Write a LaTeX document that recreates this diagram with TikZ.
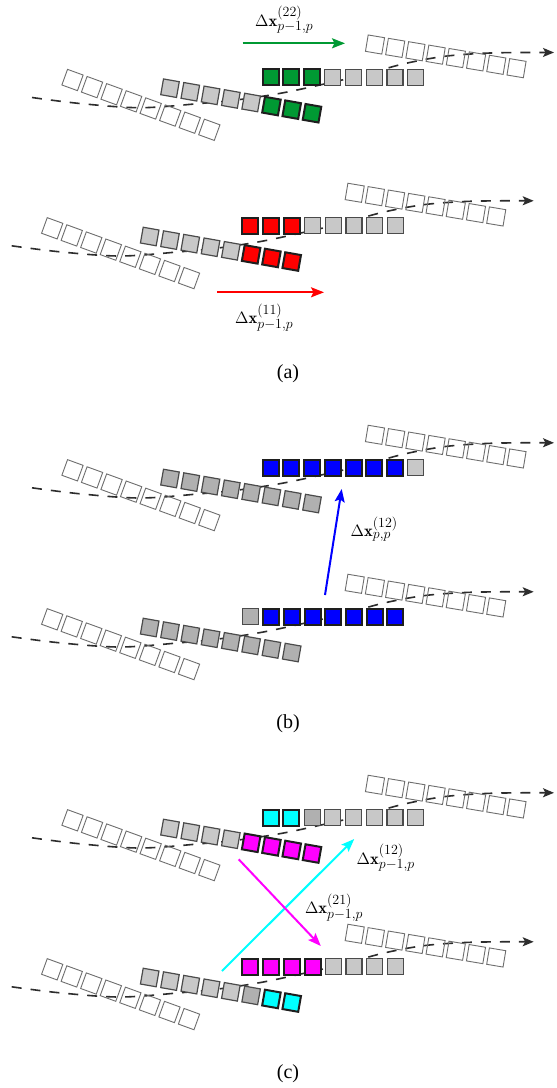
\RequirePackage{fix-cm}
\documentclass[tikz,border=0pt]{standalone}
\usepackage{fontspec}
\newfontfamily\capfont{Liberation Serif}
\DeclareMathSizes{16.5}{16.5}{14}{11}
\usetikzlibrary{arrows.meta}
\definecolor{cG}{RGB}{0,153,51}
\definecolor{cR}{RGB}{255,0,0}
\definecolor{cB}{RGB}{0,0,255}
\definecolor{cC}{RGB}{0,255,255}
\definecolor{cM}{RGB}{255,0,255}
\definecolor{cL}{RGB}{200,200,200}
\definecolor{cD}{RGB}{176,176,176}
\definecolor{cEdge}{RGB}{75,75,75}
\definecolor{cHol}{RGB}{110,110,110}
\definecolor{cDash}{RGB}{45,45,45}
\definecolor{cBord}{RGB}{30,30,30}
\tikzset{
  hol/.style={draw=cHol, line width=0.9pt},
  sqL/.style={fill=cL, draw=cEdge, line width=1.2pt},
  sqD/.style={fill=cD, draw=cEdge, line width=1.2pt},
  sqG/.style={fill=cG, draw=cBord, line width=2pt},
  sqR/.style={fill=cR, draw=cBord, line width=2pt},
  sqB/.style={fill=cB, draw=cBord, line width=2pt},
  sqC/.style={fill=cC, draw=cBord, line width=2pt},
  sqM/.style={fill=cM, draw=cBord, line width=2pt},
  dcurve/.style={draw=cDash, line width=1.6pt, dash pattern=on 10pt off 9pt,
    -{Stealth[length=11pt,width=9pt,inset=2.5pt]}},
  varrow/.style={line width=2pt, -{Stealth[length=13pt,width=10pt,inset=2.5pt]}},
  lab/.style={inner sep=0pt, anchor=base west, font=\fontsize{16.5}{20}\selectfont},
  captxt/.style={inner sep=0pt, anchor=base, font=\capfont\fontsize{20}{24}\selectfont}
}
\newcommand\chainunit[3]{%
\begin{scope}[shift={#1}]
  \draw[dcurve] plot[smooth,tension=0.55] coordinates {(32,97.5) (80,103.5) (140,107.7) (200,103.5) (240,99.5) (282,93) (322,84.5) (363,75) (403,64) (443,56.5) (483,53.3) (520,52.5) (554,52.5)};
  \begin{scope}[shift={(72.5,80)},rotate=-20]
    \foreach \i in {0,...,7} \draw[hol] ({\i*20.8-8.3},-8.3) rectangle ++(16.6,16.6);
  \end{scope}
  \begin{scope}[shift={(375,44.5)},rotate=-9.5]
    \foreach \i in {0,...,7} \draw[hol] ({\i*20.5-8.3},-8.3) rectangle ++(16.6,16.6);
  \end{scope}
  \begin{scope}[shift={(170,88.2)},rotate=-10]
    \foreach \s [count=\i from 0] in {#3} \draw[\s] ({\i*20.6-8},-8) rectangle ++(16,16);
  \end{scope}
  \foreach \s [count=\i from 0] in {#2} \draw[\s] ({270.7+\i*20.7-8},{77.4-8}) rectangle ++(16,16);
\end{scope}}

\begin{document}
\begin{tikzpicture}[x=1pt,y=-1pt]
\useasboundingbox[fill=white] (0,0) rectangle (557,1088);

% panel (a)
\chainunit{(0,0)}{sqG,sqG,sqG,sqL,sqL,sqL,sqL,sqL}{sqL,sqL,sqL,sqL,sqL,sqG,sqG,sqG}
\chainunit{(-20.3,148.3)}{sqR,sqR,sqR,sqL,sqL,sqL,sqL,sqL}{sqL,sqL,sqL,sqL,sqL,sqR,sqR,sqR}
\coordinate (g1) at (242.7,43.3);
\coordinate (g2) at (345,43.3);
\draw[varrow, color=cG] (g1) -- (g2);
\node[lab] (lg) at (255,26) {$\Delta\mathbf{x}^{(22)}_{p-1,p}$};
\coordinate (r1) at (217.3,292.3);
\coordinate (r2) at (324,292.3);
\draw[varrow, color=cR] (r1) -- (r2);
\node[lab] (lr) at (235,323.3) {$\Delta\mathbf{x}^{(11)}_{p-1,p}$};
\node[captxt] (capa) at (288,378.5) {(a)};

% panel (b)
\chainunit{(0,390.3)}{sqB,sqB,sqB,sqB,sqB,sqB,sqB,sqL}{sqD,sqD,sqD,sqD,sqD,sqD,sqD,sqD}
\chainunit{(-20.3,539.3)}{sqD,sqB,sqB,sqB,sqB,sqB,sqB,sqB}{sqD,sqD,sqD,sqD,sqD,sqD,sqD,sqD}
\coordinate (b1) at (325,595);
\coordinate (b2) at (341.7,489);
\draw[varrow, color=cB] (b1) -- (b2);
\node[lab] (lb) at (350.5,536.7) {$\Delta\mathbf{x}^{(12)}_{p,p}$};
\node[captxt] (capb) at (288,728.5) {(b)};

% panel (c)
\chainunit{(0,740.3)}{sqC,sqC,sqD,sqL,sqL,sqL,sqL,sqL}{sqL,sqL,sqL,sqL,sqM,sqM,sqM,sqM}
\chainunit{(-20.3,889.3)}{sqM,sqM,sqM,sqM,sqL,sqL,sqL,sqL}{sqL,sqL,sqL,sqL,sqL,sqD,sqC,sqC}
\coordinate (c1) at (222,971);
\coordinate (c2) at (354.2,839);
\draw[varrow, color=cC] (c1) -- (c2);
\coordinate (m1) at (238.7,859.3);
\coordinate (m2) at (320.8,946);
\draw[varrow, color=cM] (m1) -- (m2);
\node[lab] (lc) at (356.5,864) {$\Delta\mathbf{x}^{(12)}_{p-1,p}$};
\node[lab] (lm) at (304.8,913.3) {$\Delta\mathbf{x}^{(21)}_{p-1,p}$};
\node[captxt] (capc) at (288,1078.5) {(c)};
\end{tikzpicture}
\end{document}
